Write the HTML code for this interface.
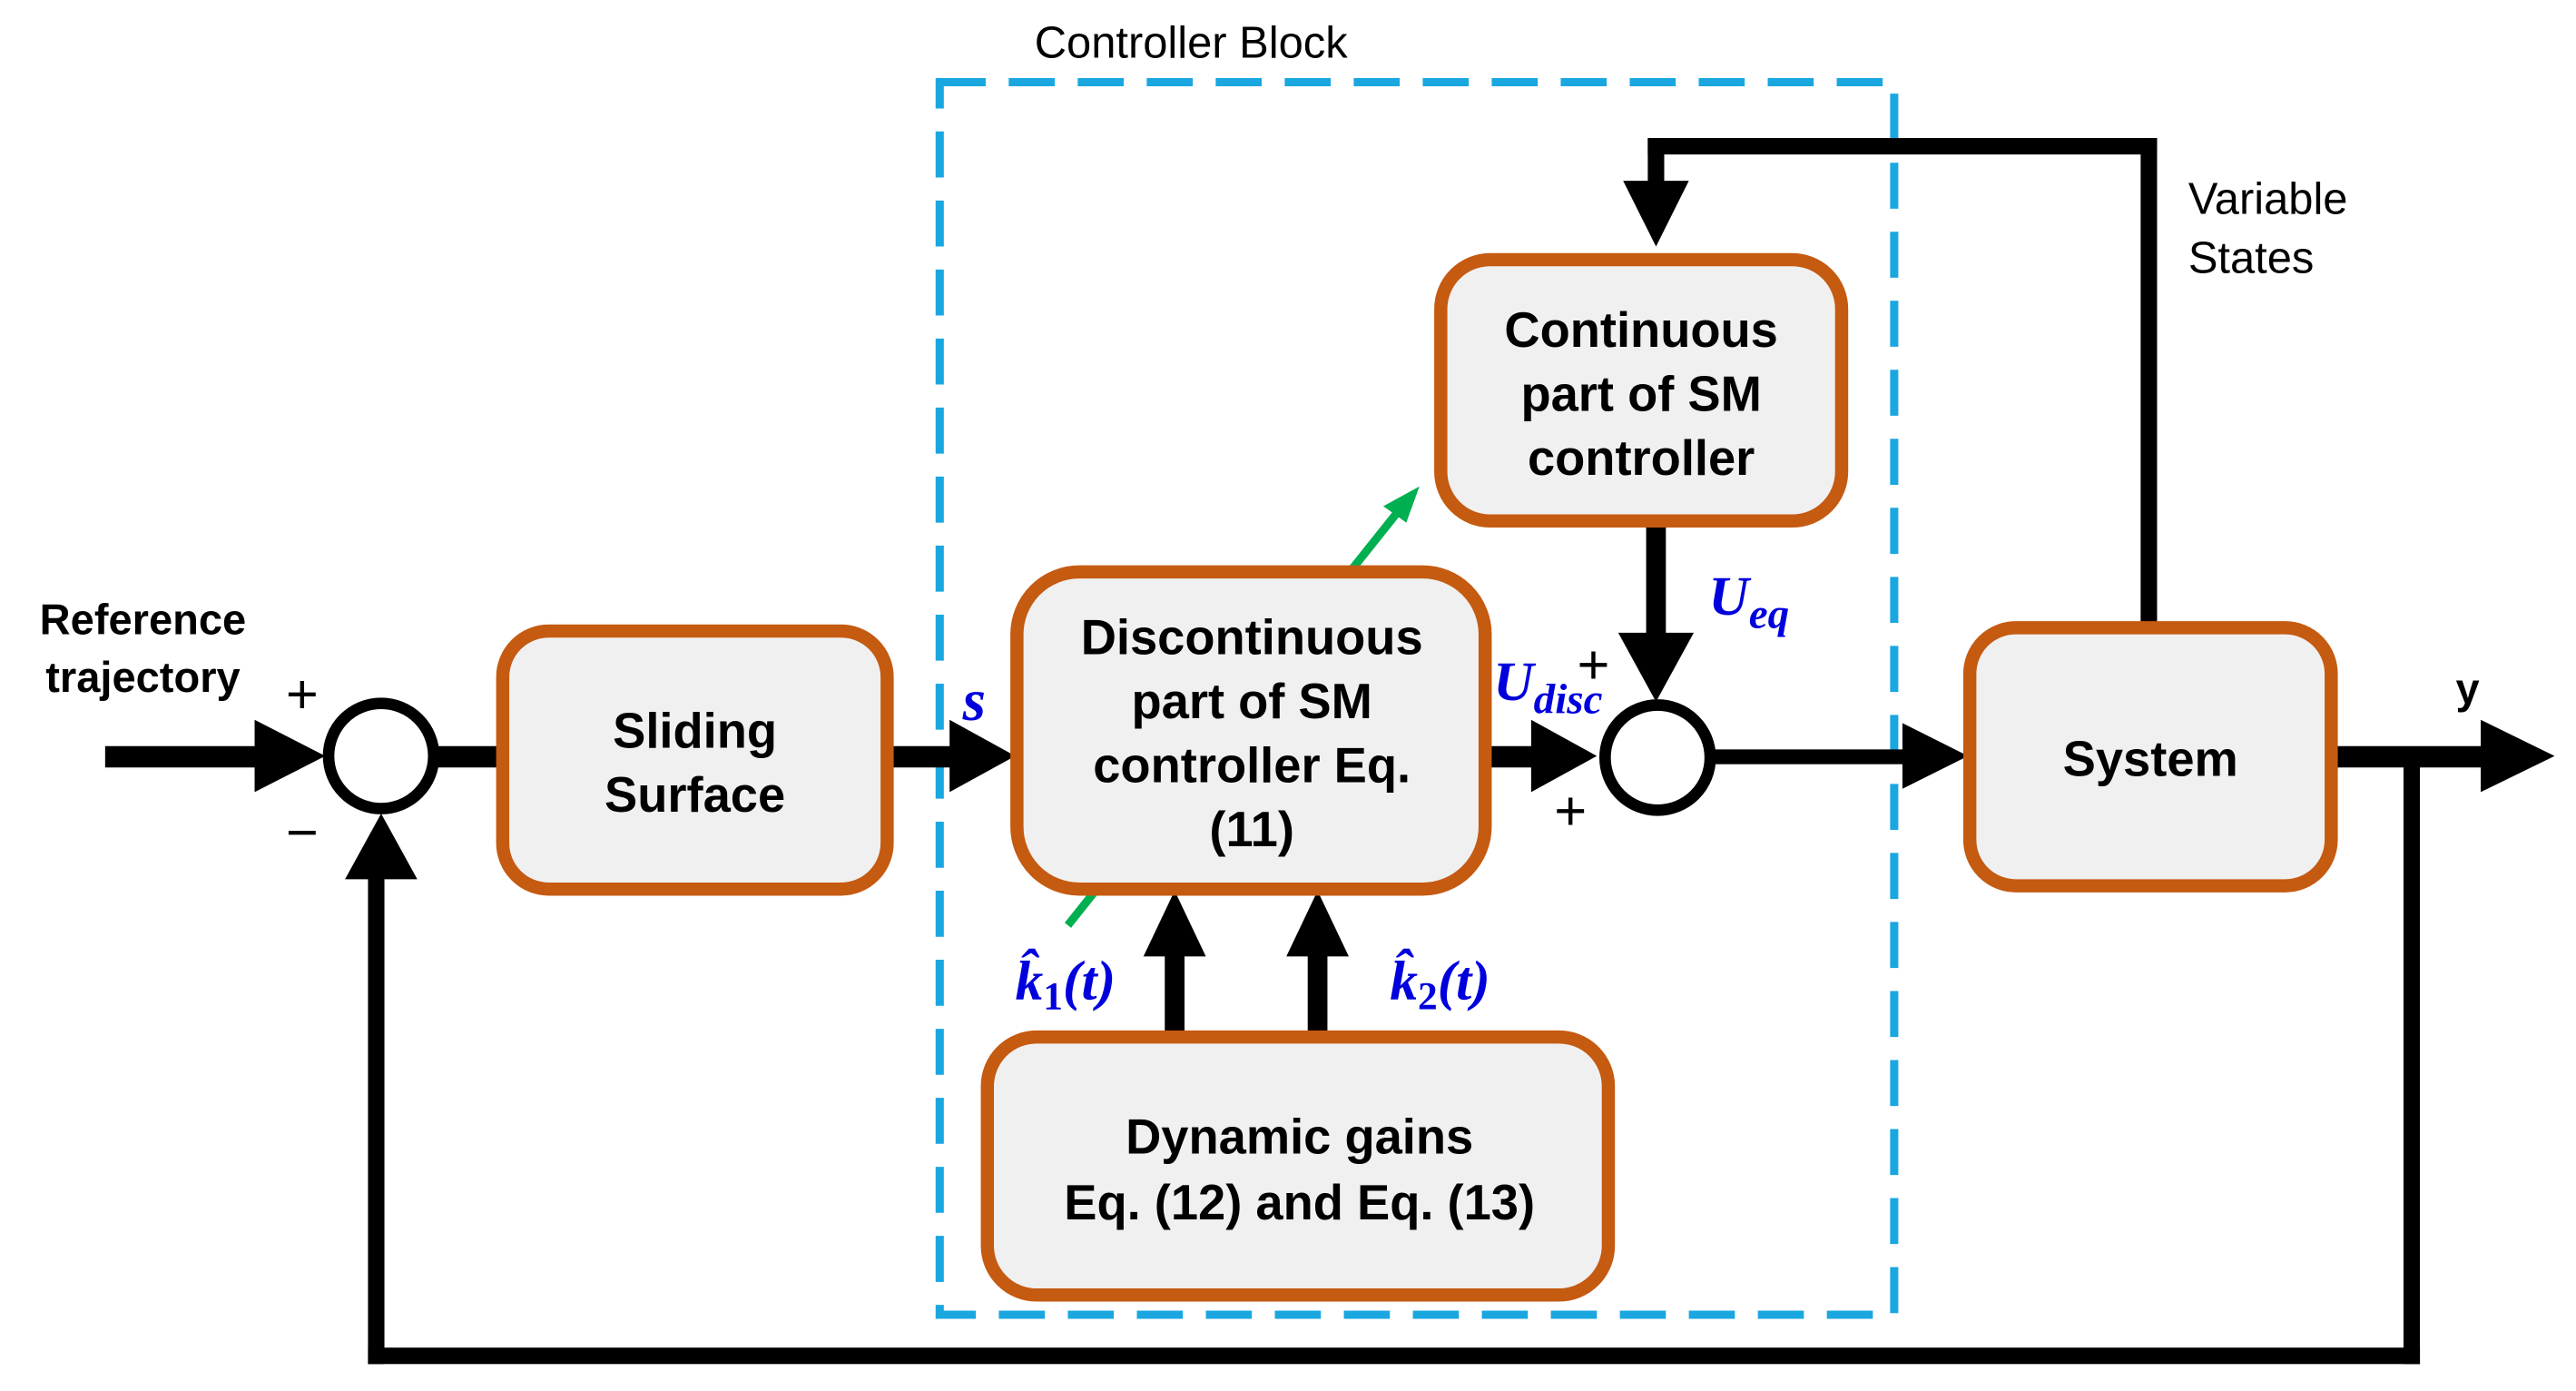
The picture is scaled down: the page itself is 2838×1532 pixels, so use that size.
<!DOCTYPE html>
<html><head><style>html,body{margin:0;padding:0;background:#fff}svg{display:block}</style></head><body>
<svg width="2838" height="1532" viewBox="0 0 1568 846.4" preserveAspectRatio="none" xmlns="http://www.w3.org/2000/svg" font-family="Liberation Sans, sans-serif">
<rect width="1568" height="847" fill="#fff"/>
<line x1="650" y1="563" x2="852" y2="310" stroke="#00b050" stroke-width="5"/>
<polygon points="864,296 842,308 856,318" fill="#00b050"/>
<rect x="572" y="50" width="581" height="750" fill="none" stroke="#1aa7e0" stroke-width="5" stroke-dasharray="28 14"/>
<text x="725" y="35" font-size="27" text-anchor="middle">Controller Block</text>
<g fill="#000">
<rect x="64" y="454" width="95" height="13"/><polygon points="155,438 198,460 155,482"/>
<rect x="265" y="454" width="42" height="13"/>
<rect x="540" y="454" width="40" height="13"/><polygon points="578,438 618,460 578,482"/>
<rect x="905" y="454" width="30" height="13"/><polygon points="932,438 972,460 932,482"/>
<rect x="1042" y="456" width="120" height="9"/><polygon points="1158,440 1198,460 1158,480"/>
<rect x="1420" y="454" width="95" height="13"/><polygon points="1510,438 1555,460 1510,482"/>
<rect x="1463" y="460" width="10" height="370"/>
<rect x="224" y="820" width="1249" height="10"/>
<rect x="224" y="530" width="10" height="300"/><polygon points="210,535 232,495 254,535"/>
<rect x="1303" y="84" width="10" height="298"/>
<rect x="1003" y="84" width="310" height="10"/>
<rect x="1003" y="84" width="10" height="30"/><polygon points="988,110 1008,150 1028,110"/>
<rect x="1002" y="318" width="12" height="72"/><polygon points="985,385 1008,427 1031,385"/>
<rect x="709" y="575" width="12" height="57"/><polygon points="696,582 715,542 734,582"/>
<rect x="796" y="575" width="12" height="57"/><polygon points="783,582 802,542 821,582"/>
</g>
<circle cx="232" cy="460" r="32" fill="#fff" stroke="#000" stroke-width="7"/>
<circle cx="1009" cy="461" r="32" fill="#fff" stroke="#000" stroke-width="7"/>
<g fill="#f0f0f0" stroke="#c55a11" stroke-width="8">
<rect x="306" y="384" width="234" height="157" rx="28"/>
<rect x="619" y="348" width="285" height="193" rx="38"/>
<rect x="877" y="158" width="244" height="159" rx="30"/>
<rect x="601" y="631" width="378" height="157" rx="30"/>
<rect x="1199" y="382" width="220" height="157" rx="28"/>
</g>
<g font-size="30" font-weight="bold" text-anchor="middle" fill="#000">
<text x="423" y="455">Sliding</text><text x="423" y="494">Surface</text>
<text x="762" y="398">Discontinuous</text><text x="762" y="437">part of SM</text><text x="762" y="476">controller Eq.</text><text x="762" y="515">(11)</text>
<text x="999" y="211">Continuous</text><text x="999" y="250">part of SM</text><text x="999" y="289">controller</text>
<text x="791" y="702">Dynamic gains</text><text x="791" y="742">Eq. (12) and Eq. (13)</text>
<text x="1309" y="472">System</text>
<text x="87" y="386" font-size="26">Reference</text><text x="87" y="421" font-size="26">trajectory</text>
<text x="1502" y="428" font-size="26">y</text>
</g>
<text x="1332" y="130" font-size="27">Variable</text><text x="1332" y="166" font-size="27">States</text>
<g font-size="34" fill="#000"><text x="174" y="434">+</text><text x="174" y="518">−</text><text x="960" y="416">+</text><text x="946" y="505">+</text></g>
<g fill="#0000dd" font-family="Liberation Serif, serif" font-style="italic" font-weight="bold">
<text x="586" y="438" font-size="36">s</text>
<text x="909" y="426" font-size="34">U<tspan font-size="26" dy="8">disc</tspan></text>
<text x="1040" y="374" font-size="34">U<tspan font-size="26" dy="8">eq</tspan></text>
<text x="618" y="608" font-size="34">k̂<tspan font-size="24" dy="6" font-style="normal">1</tspan><tspan dy="-6">(t)</tspan></text>
<text x="846" y="608" font-size="34">k̂<tspan font-size="24" dy="6" font-style="normal">2</tspan><tspan dy="-6">(t)</tspan></text>
</g>
</svg>
</body></html>
